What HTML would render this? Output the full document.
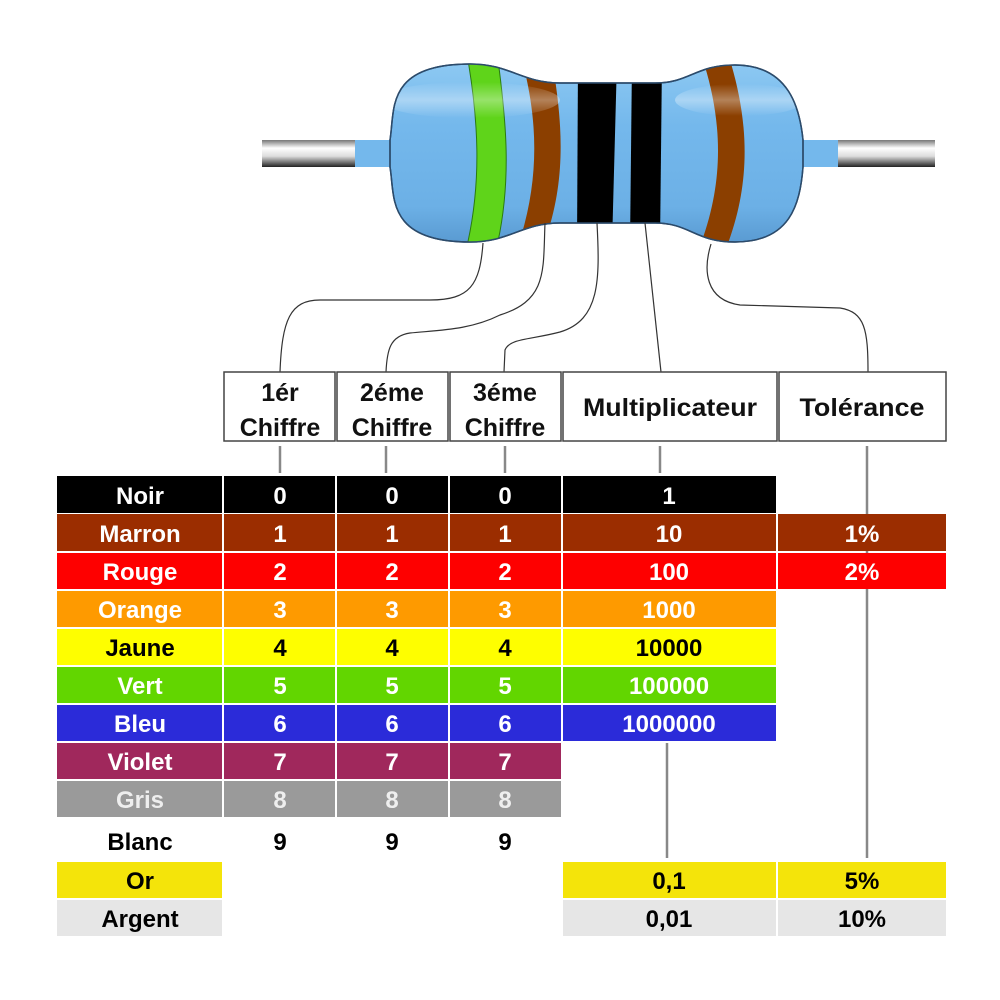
<!DOCTYPE html>
<html><head><meta charset="utf-8"><style>
html,body{margin:0;padding:0;background:#fff}
svg{display:block}
text{font-family:"Liberation Sans",Arial,sans-serif;font-weight:bold;text-anchor:middle}
</style></head><body>
<svg width="1000" height="1000" viewBox="0 0 1000 1000" xmlns="http://www.w3.org/2000/svg">
<defs>
<linearGradient id="body" x1="0" y1="0" x2="0" y2="1">
<stop offset="0" stop-color="#8cc8f2"/><stop offset="0.35" stop-color="#74b8ec"/><stop offset="0.8" stop-color="#6cb0e6"/><stop offset="1" stop-color="#5a9bd2"/>
</linearGradient>
<linearGradient id="lead" x1="0" y1="0" x2="0" y2="1">
<stop offset="0" stop-color="#777"/><stop offset="0.3" stop-color="#fff"/><stop offset="0.6" stop-color="#ddd"/><stop offset="1" stop-color="#222"/>
</linearGradient>
<linearGradient id="hl" x1="0" y1="0" x2="0" y2="1">
<stop offset="0" stop-color="#fff" stop-opacity="0"/><stop offset="0.5" stop-color="#fff" stop-opacity="0.35"/><stop offset="1" stop-color="#fff" stop-opacity="0"/>
</linearGradient>
<clipPath id="bc"><path d="M390 140 C395 110,385 64,470 64 C510 64,522 83,560 83 L655 83 C690 83,695 65,735 65 C790 65,800 110,803 140 L803 167 C800 205,790 242,735 242 C695 242,690 223,655 223 L560 223 C522 223,510 242,470 242 C385 242,395 195,390 167 Z"/></clipPath>
</defs>
<rect x="262" y="140" width="100" height="27" fill="url(#lead)"/>
<rect x="835" y="140" width="100" height="27" fill="url(#lead)"/>
<rect x="355" y="140" width="40" height="27" fill="#74b8ec"/>
<rect x="798" y="140" width="40" height="27" fill="#74b8ec"/>
<path d="M390 140 C395 110,385 64,470 64 C510 64,522 83,560 83 L655 83 C690 83,695 65,735 65 C790 65,800 110,803 140 L803 167 C800 205,790 242,735 242 C695 242,690 223,655 223 L560 223 C522 223,510 242,470 242 C385 242,395 195,390 167 Z" fill="url(#body)" stroke="#2c4b6b" stroke-width="1.5"/>
<g clip-path="url(#bc)">
<path d="M468 60 L498 60 C506 120,512 180,497 246 L467 246 C482 180,478 120,468 60Z" fill="#5fd41a" stroke="#2a7a10" stroke-width="1"/>
<path d="M522 60 L552 60 C562 120,568 180,543 246 L518 246 C540 180,538 120,522 60Z" fill="#8b3f00"/>
<path d="M578 60 L617 60 L612 246 L577 246Z" fill="#000"/>
<path d="M632 60 L662 60 L660 246 L630 246Z" fill="#000"/>
<path d="M703 60 L730 60 C748 120,752 180,727 246 L700 246 C725 180,722 120,703 60Z" fill="#8b3f00"/>
<ellipse cx="470" cy="100" rx="90" ry="18" fill="url(#hl)"/>
<ellipse cx="740" cy="100" rx="65" ry="16" fill="url(#hl)"/>
</g>
<path d="M390 140 C395 110,385 64,470 64 C510 64,522 83,560 83 L655 83 C690 83,695 65,735 65 C790 65,800 110,803 140 L803 167 C800 205,790 242,735 242 C695 242,690 223,655 223 L560 223 C522 223,510 242,470 242 C385 242,395 195,390 167 Z" fill="none" stroke="#2c4b6b" stroke-width="1.5"/>
<g fill="none" stroke="#333" stroke-width="1.2">
<path d="M483 243 C480 285,470 300,430 300 L320 300 C290 300,282 320,280 372"/>
<path d="M545 223 C543 270,548 300,500 315 C470 330,440 330,410 333 C390 336,387 350,386 372"/>
<path d="M597 223 C600 280,600 320,560 332 C530 340,510 338,505 350 L504 372"/>
<path d="M645 223 L661 372"/>
<path d="M711 244 C703 270,705 300,740 305 L840 308 C865 312,868 330,868 372"/>
</g>
<g fill="#fff" stroke="#444" stroke-width="1.5">
<rect x="224" y="372" width="111" height="69"/>
<rect x="337" y="372" width="111" height="69"/>
<rect x="450" y="372" width="111" height="69"/>
<rect x="563" y="372" width="214" height="69"/>
<rect x="779" y="372" width="167" height="69"/>
</g>
<g font-size="25" fill="#111">
<text x="280" y="401">1ér</text><text x="280" y="436">Chiffre</text>
<text x="392" y="401">2éme</text><text x="392" y="436">Chiffre</text>
<text x="505" y="401">3éme</text><text x="505" y="436">Chiffre</text>
<text x="670" y="416" textLength="174" lengthAdjust="spacingAndGlyphs">Multiplicateur</text>
<text x="862" y="416" textLength="125" lengthAdjust="spacingAndGlyphs">Tolérance</text>
</g>
<g stroke="#888" stroke-width="2.5">
<line x1="280" y1="446" x2="280" y2="473"/>
<line x1="386" y1="446" x2="386" y2="473"/>
<line x1="505" y1="446" x2="505" y2="473"/>
<line x1="660" y1="446" x2="660" y2="473"/>
<line x1="867" y1="446" x2="867" y2="858"/>
<line x1="667" y1="743" x2="667" y2="858"/>
</g>
<g font-size="24">
<rect x="57" y="476" width="165" height="37" fill="#000"/><rect x="224" y="476" width="111" height="37" fill="#000"/><rect x="337" y="476" width="111" height="37" fill="#000"/><rect x="450" y="476" width="111" height="37" fill="#000"/><rect x="563" y="476" width="213" height="37" fill="#000"/>
<g fill="#fff"><text x="140" y="504">Noir</text><text x="280" y="504">0</text><text x="392" y="504">0</text><text x="505" y="504">0</text><text x="669" y="504">1</text></g>
<g fill="#9b2d00"><rect x="57" y="514" width="165" height="37"/><rect x="224" y="514" width="111" height="37"/><rect x="337" y="514" width="111" height="37"/><rect x="450" y="514" width="111" height="37"/><rect x="563" y="514" width="213" height="37"/><rect x="778" y="514" width="168" height="37"/></g>
<g fill="#fff"><text x="140" y="542">Marron</text><text x="280" y="542">1</text><text x="392" y="542">1</text><text x="505" y="542">1</text><text x="669" y="542">10</text><text x="862" y="542">1%</text></g>
<g fill="#fe0000"><rect x="57" y="553" width="165" height="36"/><rect x="224" y="553" width="111" height="36"/><rect x="337" y="553" width="111" height="36"/><rect x="450" y="553" width="111" height="36"/><rect x="563" y="553" width="213" height="36"/><rect x="778" y="553" width="168" height="36"/></g>
<g fill="#fff"><text x="140" y="580">Rouge</text><text x="280" y="580">2</text><text x="392" y="580">2</text><text x="505" y="580">2</text><text x="669" y="580">100</text><text x="862" y="580">2%</text></g>
<g fill="#fe9a00"><rect x="57" y="591" width="165" height="36"/><rect x="224" y="591" width="111" height="36"/><rect x="337" y="591" width="111" height="36"/><rect x="450" y="591" width="111" height="36"/><rect x="563" y="591" width="213" height="36"/></g>
<g fill="#fff"><text x="140" y="618">Orange</text><text x="280" y="618">3</text><text x="392" y="618">3</text><text x="505" y="618">3</text><text x="669" y="618">1000</text></g>
<g fill="#fefe00"><rect x="57" y="629" width="165" height="36"/><rect x="224" y="629" width="111" height="36"/><rect x="337" y="629" width="111" height="36"/><rect x="450" y="629" width="111" height="36"/><rect x="563" y="629" width="213" height="36"/></g>
<g fill="#000"><text x="140" y="656">Jaune</text><text x="280" y="656">4</text><text x="392" y="656">4</text><text x="505" y="656">4</text><text x="669" y="656">10000</text></g>
<g fill="#62d600"><rect x="57" y="667" width="165" height="36"/><rect x="224" y="667" width="111" height="36"/><rect x="337" y="667" width="111" height="36"/><rect x="450" y="667" width="111" height="36"/><rect x="563" y="667" width="213" height="36"/></g>
<g fill="#fff"><text x="140" y="694">Vert</text><text x="280" y="694">5</text><text x="392" y="694">5</text><text x="505" y="694">5</text><text x="669" y="694">100000</text></g>
<g fill="#2b2bd9"><rect x="57" y="705" width="165" height="36"/><rect x="224" y="705" width="111" height="36"/><rect x="337" y="705" width="111" height="36"/><rect x="450" y="705" width="111" height="36"/><rect x="563" y="705" width="213" height="36"/></g>
<g fill="#fff"><text x="140" y="732">Bleu</text><text x="280" y="732">6</text><text x="392" y="732">6</text><text x="505" y="732">6</text><text x="669" y="732">1000000</text></g>
<g fill="#a0285c"><rect x="57" y="743" width="165" height="36"/><rect x="224" y="743" width="111" height="36"/><rect x="337" y="743" width="111" height="36"/><rect x="450" y="743" width="111" height="36"/></g>
<g fill="#fff"><text x="140" y="770">Violet</text><text x="280" y="770">7</text><text x="392" y="770">7</text><text x="505" y="770">7</text></g>
<g fill="#9a9a9a"><rect x="57" y="781" width="165" height="36"/><rect x="224" y="781" width="111" height="36"/><rect x="337" y="781" width="111" height="36"/><rect x="450" y="781" width="111" height="36"/></g>
<g fill="#eee"><text x="140" y="808">Gris</text><text x="280" y="808">8</text><text x="392" y="808">8</text><text x="505" y="808">8</text></g>
<g fill="#000"><text x="140" y="850">Blanc</text><text x="280" y="850">9</text><text x="392" y="850">9</text><text x="505" y="850">9</text></g>
<g fill="#f4e40a"><rect x="57" y="862" width="165" height="36"/><rect x="563" y="862" width="213" height="36"/><rect x="778" y="862" width="168" height="36"/></g>
<g fill="#000"><text x="140" y="889">Or</text><text x="669" y="889">0,1</text><text x="862" y="889">5%</text></g>
<g fill="#e6e6e6"><rect x="57" y="900" width="165" height="36"/><rect x="563" y="900" width="213" height="36"/><rect x="778" y="900" width="168" height="36"/></g>
<g fill="#000"><text x="140" y="927">Argent</text><text x="669" y="927">0,01</text><text x="862" y="927">10%</text></g>
</g>
</svg>
</body></html>
